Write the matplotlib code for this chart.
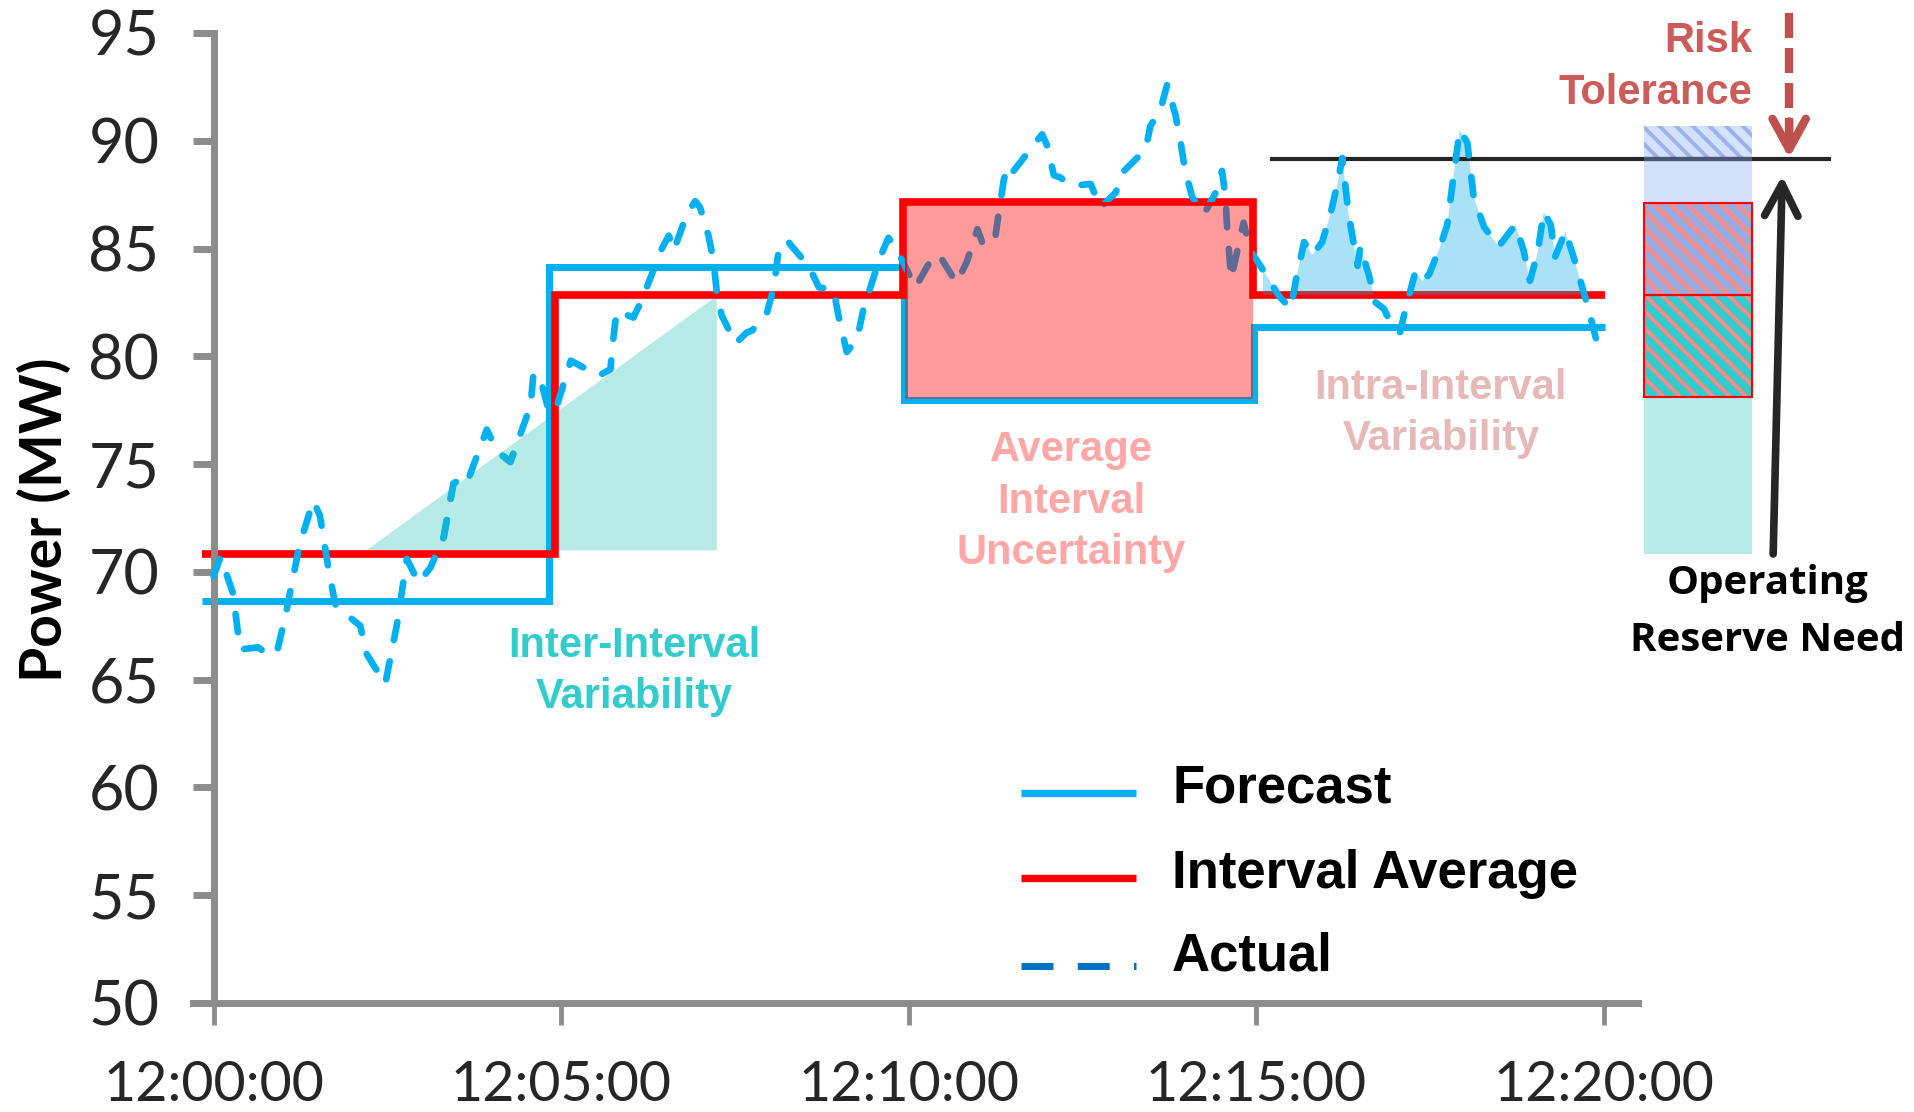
import matplotlib.pyplot as plt
import numpy as np
from matplotlib.patches import Rectangle
from matplotlib.path import Path

# time in minutes after 12:00:00, power in MW
minutes = [0.0, 0.10, 0.28, 0.38, 0.64, 0.81, 0.92, 1.03, 1.24, 1.435, 1.53, 1.65, 1.75,
           1.92, 2.11, 2.20, 2.47, 2.64, 2.78, 2.95, 3.12, 3.31, 3.45, 3.55, 3.64, 3.84,
           3.93, 4.08, 4.27, 4.56, 4.60, 4.68, 4.82, 4.91, 5.14, 5.54, 5.71, 5.75, 5.80,
           6.04, 6.16, 6.45, 6.55, 6.62, 6.81, 6.93, 7.0, 7.12, 7.19, 7.24, 7.31, 7.51,
           7.67, 7.75, 7.96, 8.06, 8.13, 8.25, 8.32, 8.56, 8.71, 8.92, 8.99, 9.11, 9.26,
           9.35, 9.47, 9.59, 9.71, 9.81, 9.93, 10.10, 10.36, 10.46, 10.69, 10.84, 10.99,
           11.08, 11.25, 11.30, 11.37, 11.44, 11.51, 11.92, 11.99, 12.09, 12.18, 12.35,
           12.62, 12.76, 12.98, 13.10, 13.41, 13.48, 13.62, 13.72, 13.84, 13.91, 13.98,
           14.08, 14.25, 14.42, 14.51, 14.56, 14.58, 14.61, 14.64, 14.73, 14.82, 14.92,
           15.10, 15.33, 15.50, 15.57, 15.69, 15.81, 15.95, 16.07, 16.17, 16.24, 16.33,
           16.46, 16.50, 16.62, 16.72, 16.84, 16.93, 17.07, 17.15, 17.29, 17.39, 17.49,
           17.65, 17.75, 17.85, 17.93, 18.04, 18.13, 18.28, 18.49, 18.73, 18.85, 18.94,
           19.05, 19.14, 19.24, 19.30, 19.45, 19.57, 19.79, 19.90, 20.05]
actual = [69.8, 70.7, 69.0, 66.4, 66.5, 66.1, 66.4, 67.9, 71.3, 73.3, 72.6, 70.2, 68.5,
          68.0, 67.5, 66.2, 64.8, 67.6, 70.6, 69.5, 70.2, 71.6, 74.1, 74.3, 74.1, 75.8,
          76.6, 75.6, 75.1, 77.7, 79.1, 79.2, 77.5, 77.4, 79.8, 79.1, 79.4, 80.8, 82.1,
          81.8, 82.6, 85.0, 85.6, 84.9, 86.6, 87.2, 86.9, 85.6, 84.5, 83.0, 81.9, 80.6,
          81.1, 81.2, 82.0, 83.2, 84.9, 85.4, 85.1, 84.2, 83.2, 83.1, 81.9, 80.2, 80.8,
          82.2, 83.4, 84.6, 85.5, 85.1, 84.3, 83.2, 84.7, 84.6, 83.4, 84.4, 85.9,
          85.1, 85.6, 86.7, 88.2, 88.9, 88.6, 90.3, 89.8, 88.4, 88.3, 87.9,
          88.0, 86.9, 87.6, 88.6, 89.6, 90.7, 91.4, 92.6, 91.2, 90.0, 88.6,
          87.4, 86.6, 87.6, 88.6, 87.4, 86.1, 84.9, 83.6, 84.9, 86.2, 84.9,
          84.0, 82.8, 82.2, 83.5, 85.3, 84.7, 85.3, 86.6, 88.0, 89.2, 86.6,
          84.2, 85.1, 83.8, 82.5, 82.2, 81.6, 81.1, 82.2, 83.9, 83.5, 83.8,
          85.1, 86.1, 88.6, 90.5, 89.9, 87.4, 86.0, 85.1, 86.1, 84.9, 83.5,
          84.8, 86.7, 86.1, 84.6, 85.8, 84.6, 82.1, 80.7, 80.5]

fc_edges = [-0.17, 4.83, 9.94, 14.97, 20.02]
fc_levels = [68.66, 84.13, 77.97, 81.34]
avg_edges = [-0.17, 4.91, 9.92, 14.96, 20.02]
avg_levels = [70.83, 82.86, 87.17, 82.86]

tick_pos = [0, 5, 10, 15, 20]
tick_labels = ["12:00:00", "12:05:00", "12:10:00", "12:15:00", "12:20:00"]

inter_x = [2.2, 7.24, 7.24]
inter_y = [71.0, 82.8, 71.0]
box_x = [9.95, 14.96]
box_y = [78.0, 87.17]

threshold = 89.14
threshold_x = [15.23, 23.25]
reserve_x = [20.58, 22.14]
reserve_levels = [70.82, 78.12, 82.85, 87.11, 90.69]

# colours
BLUE = "#00B0F0"
RED = "#FF0000"
GRAY = "#8C8C8C"
RISK = "#C0504D"

plt.rcParams["font.family"] = ["Lato", "DejaVu Sans"]
plt.rcParams["hatch.linewidth"] = 2.8

W, H = 1914, 1112
px_min = 69.5
x0 = 213.6
xlim = (-0.3, 24.0)
fig = plt.figure(figsize=(W / 100, H / 100), dpi=100)
l = x0 + xlim[0] * px_min
r = x0 + xlim[1] * px_min
ax = fig.add_axes([l / W, (H - 1003) / H, (r - l) / W, 970 / H])
ax.set_xlim(*xlim)
ax.set_ylim(50, 95)

for s in ["top", "right"]:
    ax.spines[s].set_visible(False)
ax.spines["left"].set_position(("data", 0))
ax.spines["left"].set_bounds(50, 95)
ax.spines["bottom"].set_bounds(-0.3, 20.5)
for s in ["left", "bottom"]:
    ax.spines[s].set_color(GRAY)
    ax.spines[s].set_linewidth(5)

ax.set_yticks(np.arange(50, 96, 5))
ax.set_xticks(tick_pos, tick_labels)
ax.tick_params(axis="y", direction="out", length=15, width=5, color=GRAY, pad=24,
               labelsize=44, labelcolor="#262626")
ax.tick_params(axis="x", direction="out", length=16, width=3.5, color=GRAY, pad=25,
               labelsize=40, labelcolor="#262626")

# inter-interval wedge
tri = ax.fill(inter_x, inter_y, color="#B5EAE6", lw=0, zorder=1)[0]

# intra-interval area above the last interval average
xa = np.array(minutes)
ya = np.array(actual)
pc = ax.fill_between(xa, ya, avg_levels[-1], where=(xa >= avg_edges[-2]) & (ya > avg_levels[-1]),
                     interpolate=True, color="#AAE1F6", lw=0, zorder=1)
intra_clip = Path.make_compound_path(*pc.get_paths())

# reserve stack
xc = (reserve_x[0] + reserve_x[1]) / 2
bw = reserve_x[1] - reserve_x[0]
seg_colors = ["#B5EAE6", "#33CCCC", "#9AAADC", "#D3E1FB"]
seg_hatch = [None, "\\\\", "\\\\", None]
seg_patches = []
for i in range(4):
    b = reserve_levels[i]
    h = reserve_levels[i + 1] - b
    hc = "#FF8A8A" if seg_hatch[i] else seg_colors[i]
    bars = ax.bar(xc, h, bottom=b, width=bw, color=seg_colors[i], hatch=seg_hatch[i],
                  edgecolor=hc, lw=0, zorder=2)
    seg_patches.append(bars.patches[0])
    if seg_hatch[i]:
        ax.bar(xc, h, bottom=b, width=bw, fill=False, edgecolor=RED, lw=1.5, zorder=2.1)
ax.bar(xc, reserve_levels[-1] - threshold, bottom=threshold, width=bw, fill=False,
       hatch="\\\\", edgecolor="#9DB1EA", lw=0, zorder=2.05)

# threshold line
ax.plot(threshold_x, [threshold] * 2, color="#262626", lw=3, zorder=2.5, clip_on=False)
thr_in = ax.plot(threshold_x, [threshold] * 2, color="#4A5672", lw=3, zorder=2.6)[0]
thr_in.set_clip_path(seg_patches[3])

# forecast and interval average
ax.stairs(fc_levels, fc_edges, baseline=None, color=BLUE, lw=5, zorder=2)
ax.stairs(avg_levels, avg_edges, baseline=None, color=RED, lw=5.5, zorder=2.2)
red_dark = ax.stairs(avg_levels, avg_edges, baseline=None, color="#A6404F", lw=5.5, zorder=2.4)
red_dark.set_clip_path(intra_clip, ax.transData)

# actual
dash_kw = dict(lw=4.8, dashes=(2.75, 3.25), dash_capstyle="round", solid_capstyle="round")
ax.plot(minutes, actual, color=BLUE, zorder=3, **dash_kw)
act_tri = ax.plot(minutes, actual, color="#12B4DA", zorder=3.05, **dash_kw)[0]
act_tri.set_clip_path(tri)

# average interval uncertainty box
box = Rectangle((box_x[0], box_y[0]), box_x[1] - box_x[0], box_y[1] - box_y[0],
                fc="#FF9B9B", ec="none", zorder=3.5)
ax.add_patch(box)
a2 = ax.plot(minutes, actual, color="#5F6B94", zorder=3.6, **dash_kw)[0]
a2.set_clip_path(box)
f2 = ax.stairs(fc_levels, fc_edges, baseline=None, color="#5F6B94", lw=5, zorder=3.6)
f2.set_clip_path(box)
r2 = ax.stairs(avg_levels, avg_edges, baseline=None, color=RED, lw=5.5, zorder=3.7)
r2.set_clip_path(box)

# arrows
ax.plot([22.67, 22.67], [95.93, 90.3], color=RISK, lw=6, dashes=(3.0, 1.2), clip_on=False,
        zorder=4)
ax.annotate("", xy=(22.67, 89.2), xytext=(22.67, 90.9), annotation_clip=False,
            arrowprops=dict(arrowstyle="->,head_length=22,head_width=12", mutation_scale=1,
                            lw=6, color=RISK, shrinkA=0, shrinkB=0), zorder=4)
ax.annotate("", xy=(22.57, 88.38), xytext=(22.44, 70.83), annotation_clip=False,
            arrowprops=dict(arrowstyle="->,head_length=23,head_width=12", mutation_scale=1,
                            lw=5.5, color="#262626", shrinkA=0, shrinkB=0), zorder=4)

# area labels
lab = dict(ha="center", va="baseline", fontsize=30, fontweight="bold", family="Liberation Sans")
ax.text(6.05, 66.06, "Inter-Interval", color="#33CCCC", **lab)
ax.text(6.05, 63.69, "Variability", color="#33CCCC", **lab)
ax.text(12.34, 75.13, "Average", color="#FFA6A6", **lab)
ax.text(12.34, 72.75, "Interval", color="#FFA6A6", **lab)
ax.text(12.34, 70.37, "Uncertainty", color="#FFA6A6", **lab)
ax.text(17.66, 78.01, "Intra-Interval", color="#E6B8B7", **lab)
ax.text(17.66, 75.64, "Variability", color="#E6B8B7", **lab)

risk = dict(ha="right", va="baseline", fontsize=30, fontweight="bold",
            family="Liberation Sans", color="#CC5C5A", clip_on=False)
ax.text(22.14, 94.1, "Risk", **risk)
ax.text(22.14, 91.72, "Tolerance", **risk)
ax.text(22.356, 68.98, "Operating", ha="center", va="baseline", fontsize=29,
        fontweight="bold", family="Open Sans", color="black", clip_on=False)
ax.text(22.356, 66.35, "Reserve Need", ha="center", va="baseline", fontsize=29,
        fontweight="bold", family="Open Sans", color="black", clip_on=False)

# legend keys
ax.plot([11.62, 13.27], [59.76] * 2, color=BLUE, lw=5.3, solid_capstyle="butt")
ax.plot([11.62, 13.27], [55.81] * 2, color=RED, lw=5.3, solid_capstyle="butt")
ax.plot([11.62, 13.27], [51.73] * 2, color="#0070C0", lw=5, dashes=(4.6, 3.5),
        dash_capstyle="butt")
leg = dict(ha="left", va="baseline", fontsize=38, fontweight="bold",
           family="Liberation Sans", color="black")
ax.text(13.79, 59.28, "Forecast", **leg)
ax.text(13.79, 55.34, "Interval Average", **leg)
ax.text(13.79, 51.53, "Actual", **leg)

fig.text(45 / W, 1 - 520 / H, "Power (MW)", rotation=90, ha="center", va="center",
         fontsize=41, fontweight="bold", color="black")

fig.savefig("out.png", dpi=100)
